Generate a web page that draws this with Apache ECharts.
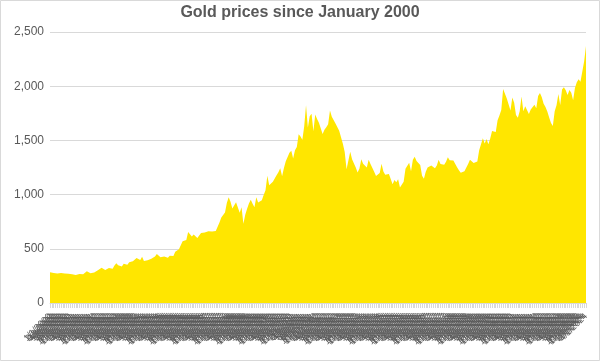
<!DOCTYPE html>
<html><head><meta charset="utf-8">
<script src="https://cdn.jsdelivr.net/npm/echarts@6/dist/echarts.min.js"></script>
<style>html,body{margin:0;padding:0;background:#fff}#c{width:600px;height:361px}</style>
</head><body><div id="c"></div>
<script>
var title = "Gold prices since January 2000";
var startYear = 2000;
var yTicks = [0, 500, 1000, 1500, 2000, 2500];
// monthly gold price (USD/oz), Jan 2000 .. Apr 2024
var prices = [
283,293,277,274,272,288,277,278,273,264,270,273,
265,267,258,264,267,270,266,273,293,278,275,277,
282,297,302,308,326,318,304,312,324,317,317,347,
367,348,334,336,361,346,354,375,388,384,398,416,
399,397,427,388,393,395,391,408,415,428,453,438,
422,435,428,435,417,436,429,433,473,470,495,513,
569,556,582,654,643,614,633,623,599,604,646,632,
650,665,662,678,659,650,665,673,743,789,783,834,
923,975,933,871,885,930,918,833,884,730,814,869,
919,952,916,883,975,926,939,949,996,1040,1175,1087,
1083,1118,1113,1179,1207,1244,1169,1246,1307,1346,1386,1405,
1332,1409,1439,1556,1536,1505,1628,1825,1620,1722,1746,1585,
1738,1697,1662,1664,1558,1598,1622,1648,1776,1719,1726,1657,
1664,1588,1598,1469,1394,1234,1314,1395,1326,1323,1250,1204,
1240,1326,1284,1296,1250,1322,1282,1287,1210,1171,1182,1199,
1284,1213,1183,1182,1190,1172,1095,1135,1115,1142,1065,1060,
1118,1238,1232,1293,1215,1322,1350,1309,1315,1273,1173,1146,
1211,1250,1248,1268,1268,1242,1269,1322,1283,1271,1275,1303,
1345,1318,1325,1315,1300,1253,1224,1202,1192,1215,1222,1282,
1321,1313,1292,1283,1305,1409,1413,1520,1472,1512,1464,1517,
1587,1585,1577,1687,1730,1781,1975,1968,1886,1879,1776,1895,
1848,1734,1708,1769,1906,1770,1814,1814,1743,1784,1774,1829,
1797,1909,1937,1897,1837,1807,1766,1711,1661,1633,1768,1824,
1928,1827,1969,1990,1962,1919,1965,1940,1871,1983,2036,2063,
2040,2044,2230,2370
];
var categories = [];
for (var i = 0; i < prices.length; i++) {
  var y = startYear + Math.floor(i / 12);
  categories.push((i % 12 + 1) + "/1/" + y);
}
var chart = echarts.init(document.getElementById('c'));
chart.setOption({
  animation: false,
  backgroundColor: '#fff',
  title: {text: title, left: 'center', top: 0,
    textStyle: {fontFamily: 'Liberation Sans, Arial', fontSize: 16, fontWeight: 'bold', color: '#595959'}},
  grid: {left: 50, right: 14, top: 32, bottom: 58},
  xAxis: {type: 'category', data: categories, boundaryGap: false,
    axisLine: {lineStyle: {color: '#d9d9d9'}},
    axisTick: {show: true, interval: 0, length: 5, lineStyle: {color: '#d9d9d9'}},
    axisLabel: {interval: 0, rotate: 45, fontSize: 9, color: '#595959', fontFamily: 'Liberation Sans, Arial', margin: 12}},
  yAxis: {type: 'value', min: yTicks[0], max: yTicks[yTicks.length-1], interval: 500,
    axisLine: {show: false}, axisTick: {show: false},
    axisLabel: {color: '#595959', fontSize: 12, fontFamily: 'Liberation Sans, Arial', margin: 6,
      formatter: function (v) { return v.toLocaleString('en-US'); }},
    splitLine: {lineStyle: {color: '#d9d9d9', width: 1}}},
  series: [{type: 'line', data: prices, symbol: 'none', lineStyle: {width: 0},
    areaStyle: {color: '#FFE600', opacity: 1}}],
  graphic: [{type: 'rect', shape: {x: 0.5, y: 0.5, width: 599, height: 360},
    style: {fill: null, stroke: '#d9d9d9', lineWidth: 1}, silent: true}]
});
</script></body></html>
